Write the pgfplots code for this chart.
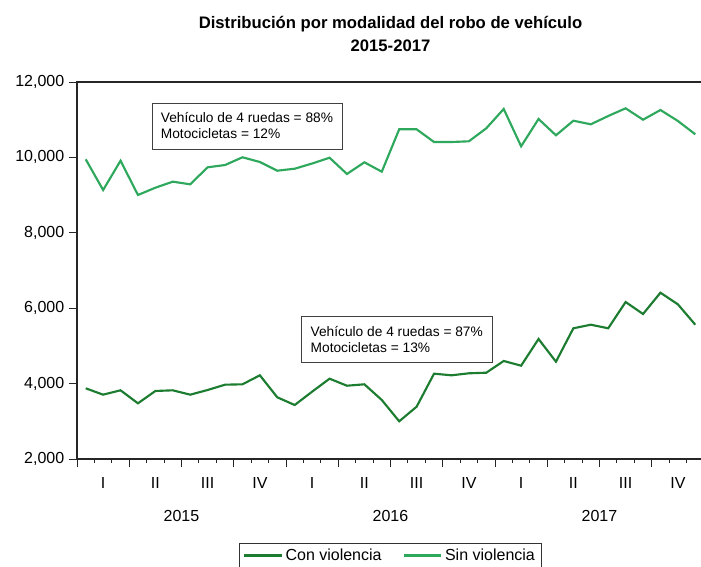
\documentclass[border=0pt]{standalone}
\usepackage{fontspec}
\setmainfont{Liberation Sans}
\usepackage{pgfplots}
\usepackage{pgfplotstable}
\pgfplotsset{compat=1.18}
\definecolor{sinv}{RGB}{46,168,92}
\definecolor{conv}{RGB}{28,124,48}
\pgfplotstableread{
m con sin
0.5 3875 9950
1.5 3706 9135
2.5 3822 9912
3.5 3477 9003
4.5 3804 9196
5.5 3822 9356
6.5 3706 9286
7.5 3830 9737
8.5 3971 9798
9.5 3981 10003
10.5 4220 9878
11.5 3636 9647
12.5 3432 9700
13.5 3786 9838
14.5 4130 9992
15.5 3944 9560
16.5 3981 9870
17.5 3565 9621
18.5 3000 10745
19.5 3387 10745
20.5 4263 10408
21.5 4220 10408
22.5 4273 10427
23.5 4289 10772
24.5 4600 11284
25.5 4475 10294
26.5 5183 11019
27.5 4581 10586
28.5 5467 10973
29.5 5562 10878
30.5 5467 11098
31.5 6164 11302
32.5 5846 11000
33.5 6411 11257
34.5 6103 10966
35.5 5562 10613
}\datatable
\begin{document}
\begin{tikzpicture}
\path[use as bounding box] (-57.75pt,-81pt) rectangle (468pt,344.25pt);
\begin{axis}[
  at={(0,0)}, anchor=south west,
  scale only axis, width=470.25pt, height=282.75pt,
  xmin=0, xmax=36, ymin=2000, ymax=12000,
  clip=false,
  font=\fontsize{12}{14}\selectfont,
  axis line style={black!85, line width=0.8pt},
  tick align=outside,
  xtick pos=bottom, ytick pos=left,
  xtick={0,3,...,36}, xticklabels={},
  minor x tick num=2,
  major tick length=6pt, minor tick length=3pt,
  tick style={black!85, line width=0.7pt},
  extra x ticks={1.5,4.5,...,34.5},
  extra x tick labels={I,II,III,IV,I,II,III,IV,I,II,III,IV},
  extra x tick style={major tick length=0pt, xticklabel style={yshift=-10.5pt}},
  ytick={2000,4000,...,12000},
  scaled y ticks=false,
  yticklabel style={/pgf/number format/.cd, fixed, 1000 sep={,}, assume math mode=true},
  title={\textbf{Distribución por modalidad del robo de vehículo}\\\textbf{2015-2017}},
  title style={align=center, font=\fontsize{12.5}{17}\selectfont, at={(0.5,1)}, anchor=south, yshift=16.5pt, inner sep=0pt},
  legend style={at={(0.5,-0.223)}, anchor=north, legend columns=2, draw=black!80,
    font=\fontsize{12}{14}\selectfont,
    /tikz/every even column/.append style={column sep=14pt}},
  legend image code/.code={\draw[#1] (0pt,0pt) -- (28pt,0pt);},
]
\addplot[conv, line width=1.6pt] table[x=m, y=con] {\datatable};
\addlegendentry{Con violencia}
\addplot[sinv, line width=1.6pt] table[x=m, y=sin] {\datatable};
\addlegendentry{Sin violencia}
\node[font=\fontsize{12}{14}\selectfont] at (axis cs:6,2000) [yshift=-43pt] {2015};
\node[font=\fontsize{12}{14}\selectfont] at (axis cs:18,2000) [yshift=-43pt] {2016};
\node[font=\fontsize{12}{14}\selectfont] at (axis cs:30,2000) [yshift=-43pt] {2017};
\node[draw=black!75, fill=white, anchor=north west, align=left, minimum width=142.5pt, minimum height=34.5pt, inner xsep=6pt, font=\fontsize{10.3}{12}\selectfont] at (axis cs:4.29,11451) {Vehículo de 4 ruedas = 88\%\\Motocicletas = 12\%};
\node[draw=black!75, fill=white, anchor=north west, align=left, minimum width=142.5pt, minimum height=34.5pt, inner xsep=6pt, font=\fontsize{10.3}{12}\selectfont] at (axis cs:12.89,5793) {Vehículo de 4 ruedas = 87\%\\Motocicletas = 13\%};
\end{axis}
\end{tikzpicture}
\end{document}
